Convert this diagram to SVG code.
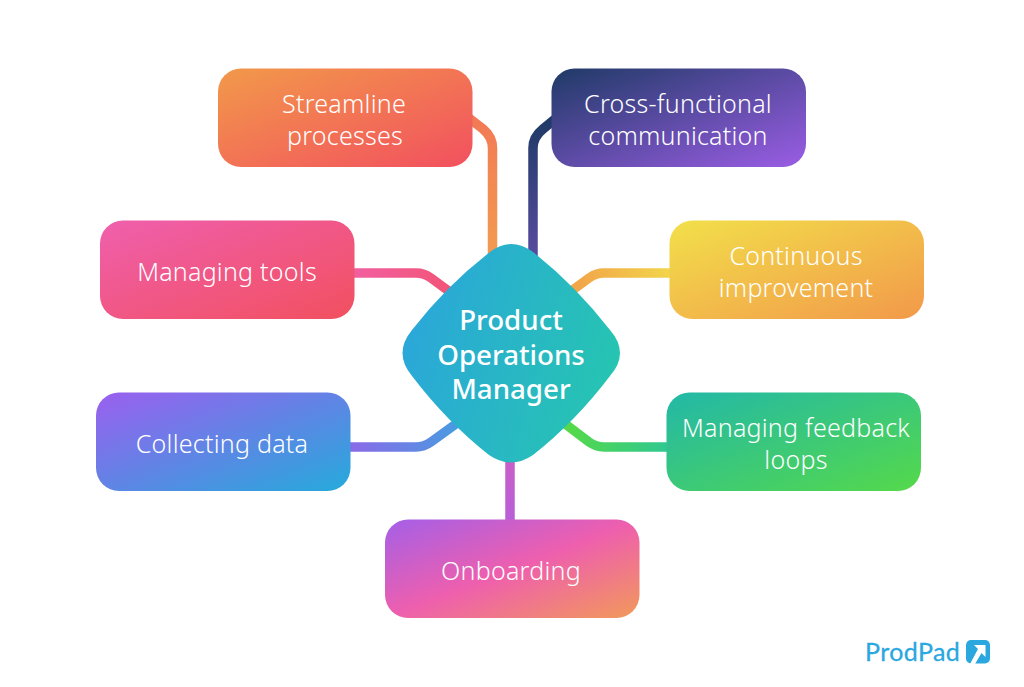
<svg xmlns="http://www.w3.org/2000/svg" width="1024" height="687" viewBox="0 0 1024 687">
<style>
.t{font-family:"Noto Sans","Open Sans",sans-serif;font-size:25px;font-weight:300;letter-spacing:.25px;fill:#fff;text-anchor:middle}
.c{font-family:"Noto Sans","Open Sans",sans-serif;font-size:27.7px;font-weight:500;fill:#fff;text-anchor:middle}
.l{fill:none;stroke-width:9.5}
</style>
<defs>
<linearGradient id="g1" x1="0" y1="0" x2="1" y2="1"><stop offset="0" stop-color="#f2994a"/><stop offset="1" stop-color="#f2505f"/></linearGradient>
<linearGradient id="g2" x1="0" y1="0" x2="1" y2="1"><stop offset="0" stop-color="#1f3a66"/><stop offset="1" stop-color="#9b5de5"/></linearGradient>
<linearGradient id="g3" x1="0" y1="0" x2="1" y2="1"><stop offset="0" stop-color="#f2e04a"/><stop offset="1" stop-color="#f2994a"/></linearGradient>
<linearGradient id="g4" x1="0" y1="0" x2="1" y2="1"><stop offset="0" stop-color="#ef5fad"/><stop offset="1" stop-color="#f2505f"/></linearGradient>
<linearGradient id="g5" x1="0" y1="0" x2="1" y2="1"><stop offset="0" stop-color="#9b5fef"/><stop offset="1" stop-color="#25aadb"/></linearGradient>
<linearGradient id="g6" x1="0" y1="0" x2="1" y2="1"><stop offset="0" stop-color="#22b8a8"/><stop offset="1" stop-color="#55d94a"/></linearGradient>
<linearGradient id="g7" x1="0" y1="0" x2="1" y2="1"><stop offset="0" stop-color="#a45fe8"/><stop offset="0.5" stop-color="#ee5fae"/><stop offset="1" stop-color="#f2995a"/></linearGradient>
<linearGradient id="gc" x1="0" y1="0.2" x2="1" y2="0.5"><stop offset="0" stop-color="#2ba5dc"/><stop offset="1" stop-color="#26c4b2"/></linearGradient>
<linearGradient id="l1" gradientUnits="userSpaceOnUse" x1="480" y1="120" x2="490" y2="250"><stop offset="0" stop-color="#f27a55"/><stop offset="1" stop-color="#f29a50"/></linearGradient>
<linearGradient id="l2" gradientUnits="userSpaceOnUse" x1="545" y1="120" x2="533" y2="250"><stop offset="0" stop-color="#1f3a66"/><stop offset="1" stop-color="#554a9c"/></linearGradient>
<linearGradient id="l3" gradientUnits="userSpaceOnUse" x1="670" y1="272" x2="580" y2="285"><stop offset="0" stop-color="#f2d54a"/><stop offset="1" stop-color="#f2a64a"/></linearGradient>
<linearGradient id="l4" gradientUnits="userSpaceOnUse" x1="355" y1="272" x2="445" y2="285"><stop offset="0" stop-color="#f25fa0"/><stop offset="1" stop-color="#f2557a"/></linearGradient>
<linearGradient id="l5" gradientUnits="userSpaceOnUse" x1="350" y1="447" x2="455" y2="428"><stop offset="0" stop-color="#8a6ae8"/><stop offset="1" stop-color="#4a9ae0"/></linearGradient>
<linearGradient id="l6" gradientUnits="userSpaceOnUse" x1="667" y1="447" x2="570" y2="428"><stop offset="0" stop-color="#30c890"/><stop offset="1" stop-color="#55d94a"/></linearGradient>
<linearGradient id="l7" gradientUnits="userSpaceOnUse" x1="510" y1="462" x2="510" y2="520"><stop offset="0" stop-color="#c85fc8"/><stop offset="1" stop-color="#b85fd8"/></linearGradient>
</defs>
<rect width="1024" height="687" fill="#fff"/>
<g id="connectors">
<path class="l" stroke="url(#l1)" d="M465 115L483 129Q492.500 137 492.500 148V260"/>
<path class="l" stroke="url(#l2)" d="M560 115L543 129Q533 137 533 148V260"/>
<path class="l" stroke="url(#l3)" d="M675 273H604Q596 273 589 278L570 292"/>
<path class="l" stroke="url(#l4)" d="M350 273H416Q424 273 431 278L450 292"/>
<path class="l" stroke="url(#l5)" d="M345 447H416Q424 447 431 442L460 421"/>
<path class="l" stroke="url(#l6)" d="M672 447H604Q596 447 589 442L560 420"/>
<path class="l" stroke="url(#l7)" d="M510 455V525"/>
</g>
<g id="n-streamline"><rect x="218" y="68.500" width="254.500" height="98.500" rx="23" fill="url(#g1)"/><text class="t" x="344" y="112.700">Streamline</text><text class="t" x="345" y="144.700">processes</text></g>
<g id="n-cross"><rect x="551.500" y="68.500" width="254.500" height="98.500" rx="23" fill="url(#g2)"/><text class="t" x="678" y="112.700">Cross-functional</text><text class="t" x="678" y="144.700">communication</text></g>
<g id="n-continuous"><rect x="669.500" y="220.500" width="254.500" height="98.500" rx="23" fill="url(#g3)"/><text class="t" x="796" y="264.700">Continuous</text><text class="t" x="796" y="296.700">improvement</text></g>
<g id="n-tools"><rect x="100" y="220.500" width="254.500" height="98.500" rx="23" fill="url(#g4)"/><text class="t" x="227" y="280.700">Managing tools</text></g>
<g id="n-data"><rect x="96" y="392.500" width="254.500" height="98.500" rx="23" fill="url(#g5)"/><text class="t" x="222" y="452.700">Collecting data</text></g>
<g id="n-feedback"><rect x="666.500" y="392.500" width="254.500" height="98.500" rx="23" fill="url(#g6)"/><text class="t" x="796" y="436.700">Managing feedback</text><text class="t" x="796" y="468.700">loops</text></g>
<g id="n-onboarding"><rect x="385" y="519.500" width="254.500" height="98.500" rx="23" fill="url(#g7)"/><text class="t" x="511" y="579.700">Onboarding</text></g>
<g id="n-center"><path fill="url(#gc)" d="M490 252Q511 236 533 252Q575 285 610 330Q630 353 610 376Q575 422 533 455Q511 470 489 455Q447 422 412 376Q393 353 412 330Q447 285 490 252Z"/><text class="c" x="511" y="330">Product</text><text class="c" x="511" y="365">Operations</text><text class="c" x="511" y="399">Manager</text></g>
<g id="logo"><text x="865" y="661" font-family="Lato,'Noto Sans',sans-serif" font-size="25" fill="#2aa7df" stroke="#2aa7df" stroke-width="0.3" letter-spacing="0.4">ProdPad</text><rect x="966" y="640" width="24" height="23.500" rx="5" fill="#2aa7df"/><path fill="#fff" d="M974 645H985.500V657L981.500 653L975 664H970L978 649Z"/></g>
</svg>
